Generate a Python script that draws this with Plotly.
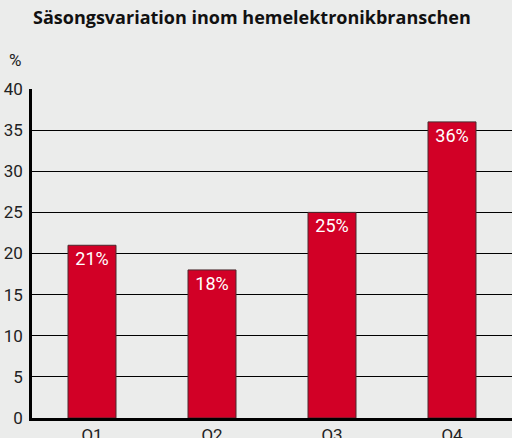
import plotly.graph_objects as go

quarters = ["Q1", "Q2", "Q3", "Q4"]
share = [21, 18, 25, 36]
bar_labels = ["21%", "18%", "25%", "36%"]

fig = go.Figure(go.Bar(
    x=quarters, y=share,
    text=bar_labels, textposition="inside", insidetextanchor="end",
    textfont=dict(color="white", size=18, family="Roboto"),
    marker=dict(color="#d20026", line=dict(color="#4a2a2e", width=1)),
    width=0.4,
))

fig.update_layout(
    width=512, height=438,
    margin=dict(l=32, r=0, t=89, b=20, autoexpand=False),
    paper_bgcolor="#ebeceb", plot_bgcolor="#ebeceb",
    font=dict(family="Roboto", color="#222", size=17),
    showlegend=False,
    title=dict(text="<b>Säsongsvariation inom hemelektronikbranschen</b>",
               x=0.492, xanchor="center", y=0.959, yanchor="middle",
               font=dict(size=18, family="Open Sans", color="#111")),
    annotations=[dict(text="%", xref="paper", yref="paper", x=-0.035, y=1.088,
                      xanchor="center", yanchor="middle", showarrow=False,
                      font=dict(size=17, color="#222"))],
    uniformtext=dict(minsize=10, mode="show"),
)
fig.update_yaxes(range=[0, 40], dtick=5, showgrid=True, gridcolor="black", gridwidth=1,
                 showline=True, linecolor="black", linewidth=2.5, automargin=False,
                 ticks="", ticklabelstandoff=3, zeroline=False)
fig.update_xaxes(showline=True, linecolor="black", linewidth=2.5, ticks="",
                 automargin=False, range=[-0.5, 3.5])

# page has a default body margin; drop it so the 512x438 figure fills the window
fig.write_html("out.html", config={"displayModeBar": False},
               post_script="document.body.style.margin='0';document.body.style.overflow='hidden';")
